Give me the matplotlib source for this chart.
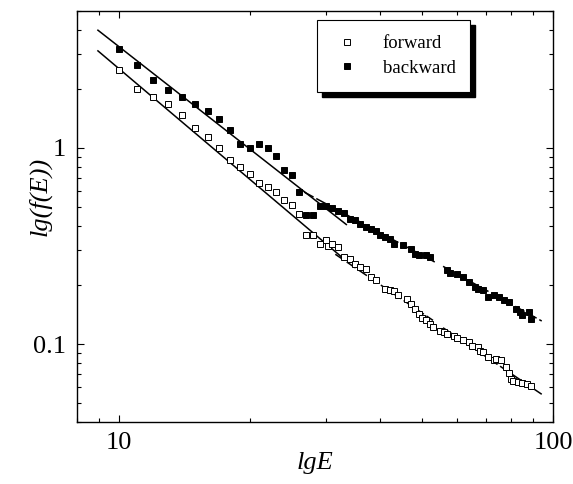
import matplotlib
matplotlib.use('Agg')
import matplotlib.pyplot as plt
from matplotlib.ticker import LogLocator, NullFormatter, FixedLocator, FixedFormatter
from matplotlib.patches import Rectangle
from matplotlib.transforms import IdentityTransform

plt.rcParams['font.family'] = ['Liberation Serif', 'DejaVu Serif']

# ---------------- data ----------------
fwd_E = [10, 11, 12, 13, 14, 15, 16, 17, 18, 19, 20, 21, 22, 23, 24, 25, 26, 27, 28, 29,
         30, 30.3, 31, 32, 33, 34, 35, 36, 37, 38, 39, 41, 42, 43, 44, 46, 47, 48, 49, 50,
         51, 52, 53, 55, 56, 57, 59, 60, 62, 64, 65, 67, 68, 69, 71, 73, 74, 76, 78, 79,
         80, 81, 83, 85, 87, 89]
fwd_y = [2.51, 2.00, 1.83, 1.68, 1.48, 1.27, 1.14, 1.00, 0.873, 0.800, 0.734, 0.663, 0.632,
         0.596, 0.545, 0.514, 0.459, 0.359, 0.359, 0.325, 0.341, 0.317, 0.325, 0.311, 0.278,
         0.273, 0.255, 0.248, 0.2405, 0.2197, 0.2113, 0.190, 0.188, 0.1857, 0.1772, 0.1704,
         0.1594, 0.1516, 0.1429, 0.1364, 0.1321, 0.1271, 0.1221, 0.1161, 0.1151, 0.1121,
         0.1095, 0.1078, 0.1044, 0.1024, 0.0973, 0.0965, 0.0921, 0.0910, 0.0859, 0.0825,
         0.0842, 0.0825, 0.0763, 0.0711, 0.0666, 0.0648, 0.0640, 0.0632, 0.0623, 0.0608]

bwd_E = [10, 11, 12, 13, 14, 15, 16, 17, 18, 19, 20, 21, 22, 23, 24, 25, 26, 27, 28, 29,
         30, 31, 32, 33, 34, 35, 36, 37, 38, 39, 40, 41, 42, 43, 45, 47, 48, 49, 51, 52,
         57, 58, 60, 62, 64, 66, 67, 69, 71, 73, 75, 77, 79, 82, 84, 85, 88, 89]
bwd_y = [3.19, 2.665, 2.234, 1.970, 1.829, 1.677, 1.544, 1.413, 1.231, 1.053, 1.00, 1.044,
         1.00, 0.910, 0.776, 0.732, 0.596, 0.457, 0.457, 0.504, 0.506, 0.494, 0.477, 0.466,
         0.436, 0.428, 0.411, 0.395, 0.386, 0.377, 0.359, 0.350, 0.345, 0.325, 0.319, 0.307,
         0.289, 0.2835, 0.2835, 0.278, 0.2377, 0.230, 0.2267, 0.2197, 0.2072, 0.1953, 0.1917,
         0.188, 0.1737, 0.1772, 0.1737, 0.167, 0.1637, 0.1516, 0.1456, 0.140, 0.1456, 0.1348]

# piecewise power-law fit segments: (E_start, E_end), (y_start, y_end)
fwd_fit_E = [(8.94, 32.7), (31.5, 52.9), (55.8, 94.2)]
fwd_fit_y = [(3.13, 0.276), (0.287, 0.132), (0.121, 0.0554)]
bwd_fit_E = [(8.94, 33.4), (26.7, 53.4), (55.8, 94.2)]
bwd_fit_y = [(3.99, 0.407), (0.596, 0.262), (0.249, 0.131)]
fit_styles = ['-', (0, (7, 2)), (0, (7, 2))]

x_ticks = [10, 100]
x_ticklabels = ['10', '100']
y_ticks = [0.1, 1]
y_ticklabels = ['0.1', '1']

# ---------------- figure ----------------
W, H = 573, 484
fig = plt.figure(figsize=(W / 100, H / 100), dpi=100)
ax = fig.add_axes([77 / W, 1 - 422 / H, 476 / W, 411 / H])
ax.set_xscale('log')
ax.set_yscale('log')
ax.set_xlim(8, 100)
ax.set_ylim(0.04, 5)

for (e, y, ls) in zip(fwd_fit_E, fwd_fit_y, fit_styles):
    ax.plot(e, y, color='black', lw=1.1, ls=ls, zorder=2)
for (e, y, ls) in zip(bwd_fit_E, bwd_fit_y, fit_styles):
    ax.plot(e, y, color='black', lw=1.1, ls=ls, zorder=2)

ax.plot(fwd_E, fwd_y, ls='none', marker='s', ms=4.8, mfc='white', mec='black', mew=0.7,
        zorder=3, label='forward')
ax.plot(bwd_E, bwd_y, ls='none', marker='s', ms=4.8, mfc='black', mec='black', mew=0.7,
        zorder=3, label='backward')

ax.xaxis.set_major_locator(FixedLocator(x_ticks))
ax.xaxis.set_major_formatter(FixedFormatter(x_ticklabels))
ax.xaxis.set_minor_locator(LogLocator(base=10, subs=range(2, 10)))
ax.xaxis.set_minor_formatter(NullFormatter())
ax.yaxis.set_major_locator(FixedLocator(y_ticks))
ax.yaxis.set_major_formatter(FixedFormatter(y_ticklabels))
ax.yaxis.set_minor_locator(LogLocator(base=10, subs=range(2, 10)))
ax.yaxis.set_minor_formatter(NullFormatter())

ax.tick_params(which='both', direction='in', top=True, right=True, width=0.8, labelsize=19)
ax.tick_params(which='major', length=5)
ax.tick_params(which='minor', length=3)
ax.tick_params(axis='x', which='major', pad=7)
ax.tick_params(axis='y', which='major', pad=8)
for s in ax.spines.values():
    s.set_linewidth(1.0)

fig.text(315 / W, 1 - 463 / H, 'lgE', ha='center', va='center', fontsize=19, style='italic')
fig.text(40 / W, 1 - 196 / H, 'lg(f(E))', ha='center', va='center', fontsize=19,
         style='italic', rotation=90)

leg = ax.legend(loc='upper left', bbox_to_anchor=((317 - 77) / 476, (422 - 20) / 411),
                fontsize=13.5, frameon=True, fancybox=False, edgecolor='black', framealpha=1,
                handlelength=1.6, handletextpad=1.1, labelspacing=0.4, borderpad=0.8,
                borderaxespad=0, markerscale=0.85)
leg.get_frame().set_linewidth(0.8)
fig.canvas.draw()
bb = leg.get_window_extent()
ax.add_patch(Rectangle((bb.x0 + 5, bb.y0 - 5), bb.width, bb.height, transform=IdentityTransform(),
                       facecolor='black', edgecolor='black', zorder=4.9, clip_on=False))

fig.savefig('out.png', dpi=100)
